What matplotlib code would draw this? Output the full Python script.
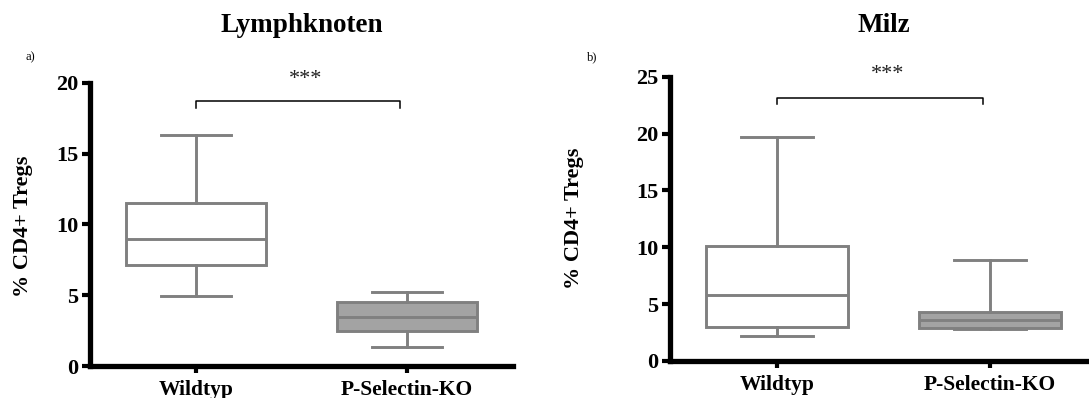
import matplotlib
matplotlib.use("Agg")
import matplotlib.pyplot as plt

# ---------------- data ----------------
categories = ["Wildtyp", "P-Selectin-KO"]

# Lymphknoten (panel a)
lk_whislo = [4.95, 1.32]
lk_q1 = [7.13, 2.47]
lk_med = [9.0, 3.48]
lk_q3 = [11.49, 4.54]
lk_whishi = [16.28, 5.25]

# Milz (panel b)
mi_whislo = [2.2, 2.78]
mi_q1 = [3.0, 2.88]
mi_med = [5.8, 3.61]
mi_q3 = [10.15, 4.34]
mi_whishi = [19.73, 8.88]

titles = ["Lymphknoten", "Milz"]
panel_tags = ["a)", "b)"]
ylims = [20, 25]
yticks_list = [[0, 5, 10, 15, 20], [0, 5, 10, 15, 20, 25]]
signif = "***"

# ---------------- style ----------------
SERIF = ["Liberation Serif", "DejaVu Serif"]
plt.rcParams["font.family"] = SERIF
W, H = 1089, 398
fig = plt.figure(figsize=(W / 100, H / 100), dpi=100)

GREY = "#808080"
FILL = ["white", "#a3a3a3"]

def px_axes(x0, x1, ytop, ybot):
    return fig.add_axes([x0 / W, 1 - ybot / H, (x1 - x0) / W, (ybot - ytop) / H])

axes_px = [(90.4, 512.7, 82.7, 366.0), (670.0, 1097.0, 76.7, 361.0)]
datasets = [
    (lk_whislo, lk_q1, lk_med, lk_q3, lk_whishi),
    (mi_whislo, mi_q1, mi_med, mi_q3, mi_whishi),
]
bracket = [(18.7, 18.2, 20.2), (23.1, 22.6, 25.15)]
ylabel_pos = [(23, 226), (573.5, 218)]
tag_pos = [(30, 57.5), (592.5, 57.5)]

for i in range(2):
    ax = px_axes(*axes_px[i])
    lo, q1, med, q3, hi = datasets[i]
    stats = []
    for j in range(len(categories)):
        stats.append(dict(whislo=lo[j], q1=q1[j], med=med[j], q3=q3[j],
                          whishi=hi[j], label=categories[j], fliers=[]))
    bp = ax.bxp(stats, positions=[1, 2], widths=0.665, patch_artist=True,
                showfliers=False,
                boxprops=dict(edgecolor=GREY, linewidth=2.1),
                medianprops=dict(color=GREY, linewidth=2.1),
                whiskerprops=dict(color=GREY, linewidth=2.1),
                capprops=dict(color=GREY, linewidth=2.1),
                capwidths=0.335)
    for patch, fc in zip(bp["boxes"], FILL):
        patch.set_facecolor(fc)

    ax.set_xlim(0.5, 2.5)
    ax.set_ylim(0, ylims[i])
    ax.set_yticks(yticks_list[i])
    ax.set_xticks([1, 2])
    ax.set_xticklabels(categories)
    for s in ["top", "right"]:
        ax.spines[s].set_visible(False)
    for s in ["left", "bottom"]:
        ax.spines[s].set_linewidth(3.8)
        ax.spines[s].set_color("black")
        ax.spines[s].set_capstyle("projecting")
    ax.tick_params(axis="y", length=6, width=3, pad=2.5, labelsize=16)
    ax.tick_params(axis="x", length=5, width=3, pad=5, labelsize=15.5)
    for lab in ax.get_xticklabels() + ax.get_yticklabels():
        lab.set_fontweight("bold")

    # significance bracket
    yb, ye, ys = bracket[i]
    ax.plot([1.0, 1.0, 1.967, 1.967], [ye, yb, yb, ye], color="black",
            linewidth=1.1, clip_on=False)
    ax.text(1.52, ys, signif, ha="center", va="center", fontsize=16,
            color="#222222", clip_on=False)

    # title centred over axes
    xc = (axes_px[i][0] + axes_px[i][1]) / 2
    fig.text(xc / W, 1 - 25 / H, titles[i], ha="center", va="center",
             fontsize=19.5, fontweight="bold")
    fig.text(ylabel_pos[i][0] / W, 1 - ylabel_pos[i][1] / H, "% CD4+ Tregs",
             rotation=90, ha="center", va="center", fontsize=16,
             fontweight="bold")
    fig.text(tag_pos[i][0] / W, 1 - tag_pos[i][1] / H, panel_tags[i],
             ha="center", va="center", fontsize=9)

fig.savefig("out.png", dpi=100, facecolor="white")
